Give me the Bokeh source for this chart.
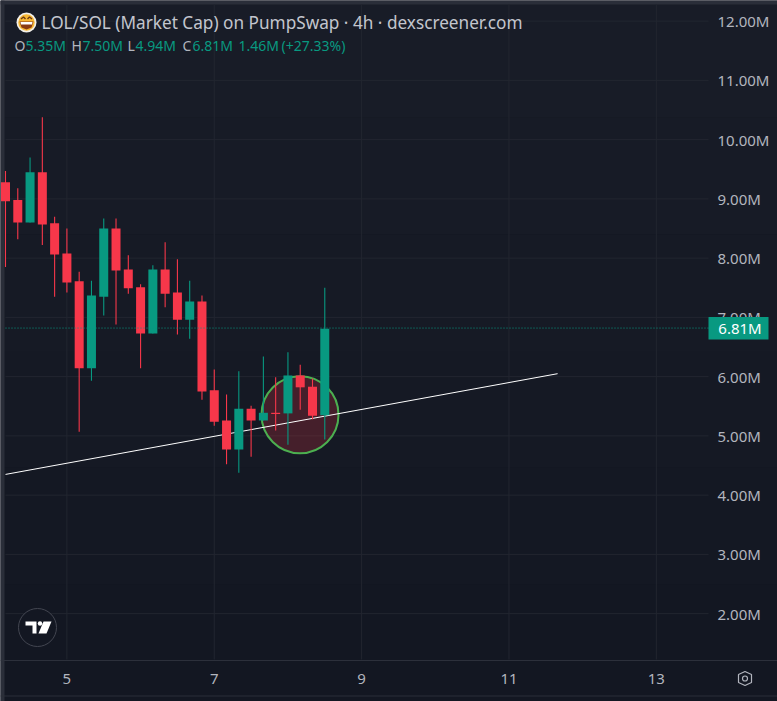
from bokeh.plotting import figure
from bokeh.embed import file_html
from bokeh.resources import INLINE
from bokeh.models import Label, FixedTicker, Range1d

# ---- data (market cap in millions)
hours = [100,104,108,112,116,120,124,128,132,136,140,144,148,152,156,160,164,168,172,176,180,184,188,192,196,200,204]
opens = [9.28,8.98,8.60,9.45,8.59,8.08,7.61,6.14,7.35,8.50,7.81,7.51,6.73,7.81,7.42,6.96,7.27,5.77,5.26,4.77,5.46,5.26,5.39,5.38,6.02,5.83,5.35]
highs = [9.47,9.18,9.70,10.38,8.70,8.50,7.77,7.62,8.67,8.67,8.05,7.56,7.88,8.27,7.98,7.62,7.37,6.12,5.70,6.09,5.51,6.34,5.99,6.41,6.20,5.97,7.50]
lows  = [7.85,8.32,8.60,8.22,7.35,7.42,5.07,5.93,7.03,6.88,7.40,6.14,6.73,7.17,6.71,6.64,5.61,5.17,4.52,4.38,4.65,5.26,5.09,4.85,5.44,5.28,4.94]
closes= [8.96,8.60,9.45,8.57,8.06,7.59,6.14,7.37,8.50,7.79,7.49,6.73,7.81,7.40,6.96,7.27,5.75,5.24,4.77,5.46,5.26,5.39,5.37,6.02,5.82,5.34,6.81]
y_ticks = [2,3,4,5,6,7,8,9,10,11,12]
y_labels = ["2.00M","3.00M","4.00M","5.00M","6.00M","7.00M","8.00M","9.00M","10.00M","11.00M","12.00M"]
x_ticks = [5,7,9,11,13]
x_labels = ["5","7","9","11","13"]
last_close = 6.82
trend_x = [4.167, 11.66]
trend_y = [4.35, 6.05]
title = "LOL/SOL (Market Cap) on PumpSwap · 4h · dexscreener.com"
band_colors = ["#181c27", "#171b26", "#161a25", "#151924", "#141823", "#131722"]

UP, DOWN = "#089981", "#f7374a"
GRID = "#222630"
FRAME = "#2a2e39"
TXT = "#b2b5be"
FONT = "Noto Sans"

def X(px): return 5 + (px - 66.4) / 73.68
def V(py): return 5 - (py - 435.4) / 59.25

p = figure(width=777, height=701, output_backend="svg", toolbar_location=None,
           x_range=Range1d(X(0), X(777)), y_range=Range1d(V(701), V(0)),
           y_axis_location="right", min_border_left=0, min_border_top=0,
           min_border_right=0, min_border_bottom=0,
           background_fill_color="#131722", border_fill_color="#131722", outline_line_color=None)

for ax, ticks, labels in ((p.yaxis[0], y_ticks, y_labels), (p.xaxis[0], x_ticks, x_labels)):
    ax.ticker = FixedTicker(ticks=ticks)
    ax.major_label_overrides = dict(zip(ticks, labels))
    ax.major_tick_line_color = None
    ax.minor_tick_line_color = None
    ax.major_label_text_color = TXT
    ax.major_label_text_font = FONT
    ax.major_label_text_font_size = "15px"
p.yaxis[0].fixed_location = X(708)
p.yaxis[0].axis_line_color = None
p.yaxis[0].major_label_standoff = 3
p.xaxis[0].fixed_location = V(659.5)
p.xaxis[0].axis_line_color = "#2c303b"
p.xaxis[0].major_label_standoff = 8
p.xgrid[0].visible = False
p.ygrid[0].visible = False

# page background, a soft vertical gradient, and the frame strips
n = len(band_colors)
p.quad(left=X(0), right=X(777), top=[V(701 * i / n) for i in range(n)], bottom=[V(701 * (i + 1) / n) for i in range(n)],
       fill_color=band_colors, line_color=None)
p.quad(left=[X(0), X(0), X(0)], right=[X(4), X(777), X(777)], top=[V(0), V(4), V(696)], bottom=[V(701), V(0), V(695)],
       fill_color=FRAME, line_color=None)

# grid, stopping at the price scale / time scale
p.segment(x0=X(5), x1=X(708), y0=y_ticks, y1=y_ticks, line_color=GRID, line_width=1)
p.segment(x0=x_ticks, x1=x_ticks, y0=V(4), y1=V(659), line_color=GRID, line_width=1)

# highlight and trend line
p.scatter([X(299.5)], [V(414.2)], size=77, marker="circle", fill_color="#f23645", fill_alpha=0.22,
          line_color="#4caf50", line_width=2)
p.line(trend_x, trend_y, line_color="#ffffff", line_width=1)

# candles
xs = [h / 24 for h in hours]
colors = [UP if c >= o else DOWN for o, c in zip(opens, closes)]
p.segment(xs, highs, xs, lows, line_color=colors, line_width=1.1)
p.vbar(x=xs, width=9 / 73.68, top=[max(a, b) for a, b in zip(opens, closes)],
       bottom=[min(a, b) for a, b in zip(opens, closes)], fill_color=colors, line_color=None)

# last price line and tag
p.line([X(5), X(708)], [last_close, last_close], line_color=UP, line_width=1, line_dash="1 2")
p.quad(left=[X(708)], right=[X(768)], top=[V(316.5)], bottom=[V(339)], fill_color=UP, line_color=None, level="annotation")

# logo
p.scatter([X(37)], [V(627)], size=38, marker="circle", fill_color="#131722", line_color="#434651", line_width=1)
p.patches([[X(25), X(36), X(36), X(32), X(32), X(25)],
           [X(43), X(51), X(46), X(38)]],
          [[V(621), V(621), V(633), V(633), V(625), V(625)],
           [V(621), V(621), V(633), V(633)]], fill_color="#ffffff", line_color=None)
p.scatter([X(39.5)], [V(623)], size=4.5, marker="circle", fill_color="#ffffff", line_color=None)

# emoji
p.scatter([X(26)], [V(22)], size=20, marker="circle", fill_color="#f2efe8", line_color=None)
p.scatter([X(26)], [V(22)], size=16.5, marker="circle", fill_color="#f7b733", line_color=None)
p.patch([X(19), X(33), X(31), X(26), X(21)], [V(21), V(21), V(27), V(29), V(27)],
        fill_color="#8a3b12", line_color=None)
p.patch([X(20), X(32), X(31.5), X(20.5)], [V(21.5), V(21.5), V(24), V(24)], fill_color="#ffffff", line_color=None)
p.line([X(20.5), X(23), X(25)], [V(18.5), V(16.5), V(18.5)], line_color="#6b3a14", line_width=1.4)
p.line([X(27), X(29), X(31.5)], [V(18.5), V(16.5), V(18.5)], line_color="#6b3a14", line_width=1.4)

# settings icon
p.patch([X(738), X(744.5), X(751), X(751), X(744.5), X(738), X(738)],
        [V(674), V(671), V(674), V(682), V(685), V(682), V(674)], fill_alpha=0, line_color=TXT, line_width=1.2)
p.scatter([X(744.5)], [V(678)], size=5, marker="circle", fill_alpha=0, line_color=TXT, line_width=1.2)

def lab(x, y, text, color=TXT, size="14px", align="left"):
    p.add_layout(Label(x=x, y=y, x_units="canvas", y_units="canvas", text=text, text_color=color,
                       text_font=FONT, text_font_size=size, text_align=align, text_baseline="middle"))

lab(41, 22, title, "#c3c6ce", "17.2px")
for x, t, c in [(14, "O", TXT), (25, "5.35M", UP), (71, "H", TXT), (82, "7.50M", UP), (127, "L", TXT),
                (135, "4.94M", UP), (182, "C", TXT), (192, "6.81M", UP), (238, "1.46M", UP), (281, "(+27.33%)", UP)]:
    lab(x, 45, t, c)
lab(739.5, 327, "6.81M", "#ffffff", "15px", "center")

open("out.html", "w").write(file_html(p, INLINE))
